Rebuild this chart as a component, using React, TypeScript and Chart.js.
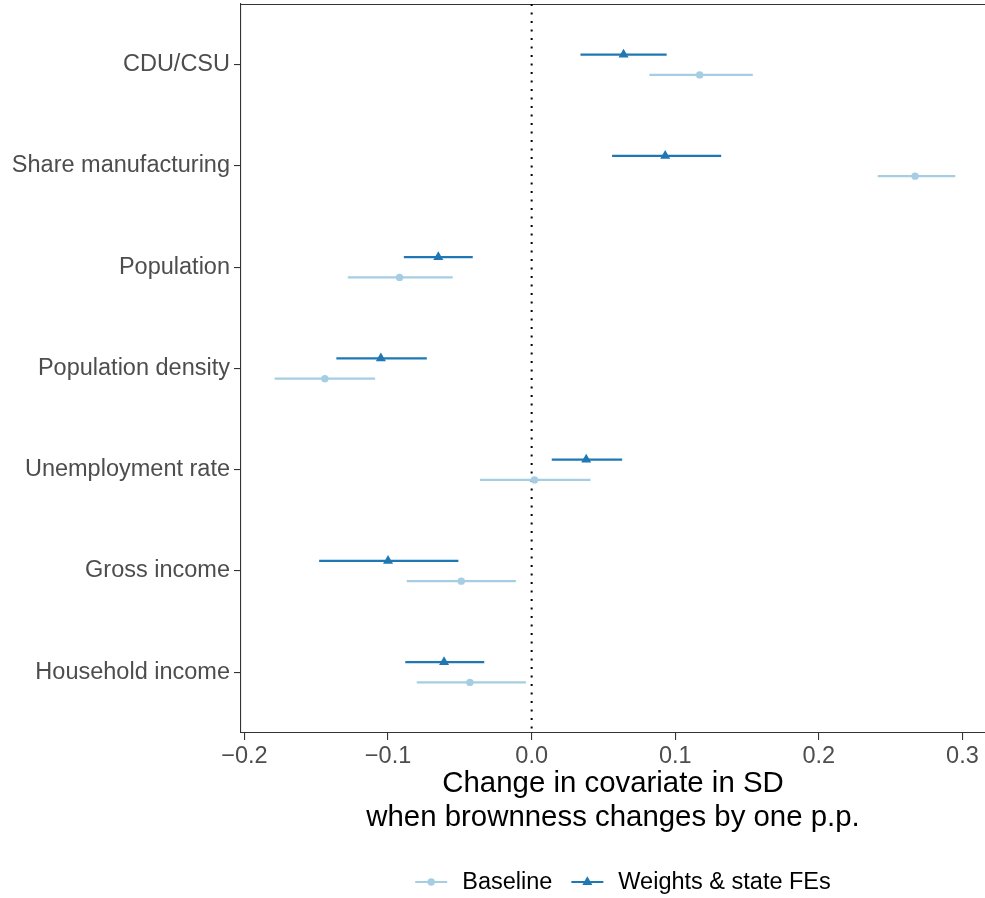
import React, { useEffect, useRef } from "react";
import { Chart, registerables } from "chart.js";

Chart.register(...registerables);

// Covariates, top to bottom
const categories = [
  "CDU/CSU",
  "Share manufacturing",
  "Population",
  "Population density",
  "Unemployment rate",
  "Gross income",
  "Household income",
];

// Baseline estimates with confidence bounds
const baselineEst = [0.117, 0.267, -0.092, -0.144, 0.002, -0.049, -0.043];
const baselineLo = [0.082, 0.241, -0.128, -0.179, -0.036, -0.087, -0.080];
const baselineHi = [0.154, 0.295, -0.055, -0.109, 0.041, -0.011, -0.004];

// Weighted estimates with state fixed effects
const weightsEst = [0.064, 0.093, -0.065, -0.105, 0.038, -0.100, -0.061];
const weightsLo = [0.034, 0.056, -0.089, -0.136, 0.014, -0.148, -0.088];
const weightsHi = [0.094, 0.132, -0.041, -0.073, 0.063, -0.051, -0.033];

const xTicks = [-0.2, -0.1, 0.0, 0.1, 0.2, 0.3];
const seriesNames = ["Baseline", "Weights & state FEs"];

const FONT = "'Liberation Sans', Arial, Helvetica, sans-serif";
const LIGHT = "#a6cee3";
const DARK = "#1f78b4";
const AXIS = "#333333";
const TEXT = "#4d4d4d";
const DODGE = 0.1;

const rowY = (i: number) => categories.length - i;

const fmtTick = (v: number) => {
  const s = Math.abs(v).toFixed(1);
  return v < -1e-9 ? "\u2212" + s : s;
};

// Horizontal interval bars, zero reference line and panel top border
const intervalPlugin = {
  id: "intervals",
  beforeDatasetsDraw(chart: any) {
    const { ctx, chartArea, scales } = chart;
    const xs = scales.x;
    const ys = scales.y;
    ctx.save();
    // top border of the panel
    ctx.strokeStyle = AXIS;
    ctx.lineWidth = 1.1;
    ctx.beginPath();
    ctx.moveTo(chartArea.left, Math.round(chartArea.top) + 0.5);
    ctx.lineTo(chartArea.right, Math.round(chartArea.top) + 0.5);
    ctx.stroke();

    // dotted line at zero
    const x0 = xs.getPixelForValue(0);
    ctx.strokeStyle = "#000000";
    ctx.lineWidth = 2;
    ctx.setLineDash([2, 6.5]);
    ctx.beginPath();
    ctx.moveTo(x0, chartArea.top);
    ctx.lineTo(x0, chartArea.bottom);
    ctx.stroke();
    ctx.setLineDash([]);

    chart.data.datasets.forEach((ds: any) => {
      ctx.strokeStyle = ds.backgroundColor;
      ctx.lineWidth = 2.2;
      ds.lo.forEach((lo: number, i: number) => {
        const y = ys.getPixelForValue(ds.data[i].y);
        ctx.beginPath();
        ctx.moveTo(xs.getPixelForValue(lo), y);
        ctx.lineTo(xs.getPixelForValue(ds.hi[i]), y);
        ctx.stroke();
      });
    });
    ctx.restore();
  },
};

// Legend below the axis title
const legendPlugin = {
  id: "bottomLegend",
  afterDraw(chart: any) {
    const { ctx, chartArea } = chart;
    ctx.save();
    ctx.font = `23.5px ${FONT}`;
    ctx.textBaseline = "middle";
    ctx.textAlign = "left";
    const keyW = 32;
    const keyGap = 15;
    const itemGap = 19;
    const widths = seriesNames.map((s) => ctx.measureText(s).width);
    const total = keyW * 2 + keyGap * 2 + widths[0] + widths[1] + itemGap;
    const cx = (chartArea.left + chartArea.right) / 2 + 10;
    let x = cx - total / 2;
    const y = 882;
    const colors = [LIGHT, DARK];
    seriesNames.forEach((name, k) => {
      ctx.strokeStyle = colors[k];
      ctx.fillStyle = colors[k];
      ctx.lineWidth = 2.2;
      ctx.beginPath();
      ctx.moveTo(x, y);
      ctx.lineTo(x + keyW, y);
      ctx.stroke();
      const mx = x + keyW / 2;
      ctx.beginPath();
      if (k === 0) {
        ctx.arc(mx, y, 3.7, 0, Math.PI * 2);
      } else {
        const r = 5.8;
        ctx.moveTo(mx, y - r);
        ctx.lineTo(mx + r * Math.sin((2 * Math.PI) / 3), y + r / 2);
        ctx.lineTo(mx - r * Math.sin((2 * Math.PI) / 3), y + r / 2);
        ctx.closePath();
      }
      ctx.fill();
      x += keyW + keyGap;
      ctx.fillStyle = "#000000";
      ctx.fillText(name, x, y + 1);
      x += widths[k] + itemGap;
    });
    ctx.restore();
  },
};

export default function App() {
  const canvasRef = useRef<HTMLCanvasElement | null>(null);

  useEffect(() => {
    document.body.style.margin = "0";
    const canvas = canvasRef.current;
    if (!canvas) return;

    const chart = new Chart(canvas, {
      type: "scatter",
      data: {
        datasets: [
          {
            label: seriesNames[0],
            data: baselineEst.map((v, i) => ({ x: v, y: rowY(i) - DODGE })),
            lo: baselineLo,
            hi: baselineHi,
            backgroundColor: LIGHT,
            borderColor: LIGHT,
            borderWidth: 0,
            pointStyle: "circle",
            pointRadius: 3.7,
          } as any,
          {
            label: seriesNames[1],
            data: weightsEst.map((v, i) => ({ x: v, y: rowY(i) + DODGE })),
            lo: weightsLo,
            hi: weightsHi,
            backgroundColor: DARK,
            borderColor: DARK,
            borderWidth: 0,
            pointStyle: "triangle",
            pointRadius: 5.8,
          } as any,
        ],
      },
      options: {
        animation: false,
        responsive: false,
        devicePixelRatio: 1,
        layout: { autoPadding: false, padding: { top: 4, left: 0, right: 0, bottom: 0 } },
        plugins: {
          legend: { display: false },
          tooltip: { enabled: false },
        },
        scales: {
          x: {
            type: "linear",
            min: -0.2024,
            max: 0.3157,
            afterBuildTicks: (scale: any) => {
              scale.ticks = xTicks.map((v) => ({ value: v }));
            },
            afterFit: (scale: any) => {
              scale.height = 165;
              scale.paddingLeft = 0;
              scale.paddingRight = 0;
            },
            grid: {
              drawOnChartArea: false,
              drawTicks: true,
              tickLength: 7,
              color: AXIS,
              lineWidth: 1.1,
            },
            border: { display: true, color: AXIS, width: 1.1 },
            ticks: {
              color: TEXT,
              padding: 2,
              maxRotation: 0,
              font: { family: FONT, size: 23.5 },
              callback: (v: any) => fmtTick(Number(v)),
            },
            title: {
              display: true,
              text: ["Change in covariate in SD", "when brownness changes by one p.p."],
              color: "#000000",
              font: { family: FONT, size: 29.4, lineHeight: 1.17 },
              padding: { top: 0, bottom: 63 },
            },
          },
          y: {
            type: "linear",
            min: 0.4,
            max: categories.length + 0.6,
            afterBuildTicks: (scale: any) => {
              scale.ticks = categories.map((_, i) => ({ value: rowY(i) }));
            },
            afterFit: (scale: any) => {
              scale.width = 241;
              scale.paddingTop = 0;
              scale.paddingBottom = 0;
            },
            grid: {
              drawOnChartArea: false,
              drawTicks: true,
              tickLength: 7,
              color: AXIS,
              lineWidth: 1.1,
            },
            border: { display: true, color: AXIS, width: 1.1 },
            ticks: {
              color: TEXT,
              padding: 4,
              font: { family: FONT, size: 23.5 },
              callback: (v: any) => categories[categories.length - Number(v)] ?? "",
            },
          },
        },
      } as any,
      plugins: [intervalPlugin, legendPlugin],
    });

    return () => chart.destroy();
  }, []);

  return (
    <div style={{ width: 985, height: 898 }}>
      <canvas ref={canvasRef} width={985} height={898} style={{ display: "block" }} />
    </div>
  );
}
